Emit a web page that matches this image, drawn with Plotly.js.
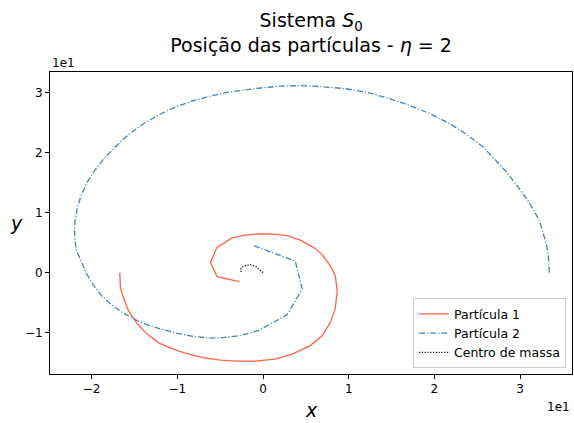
<!DOCTYPE html>
<html>
<head>
<meta charset="utf-8">
<script src="https://cdn.plot.ly/plotly-3.0.1.min.js"></script>
<style>
  html, body { margin: 0; padding: 0; background: #fff; }
  #chart { width: 574px; height: 423px; }
</style>
</head>
<body>
<div id="chart"></div>
<script>
// Trajectory of particle 1 (heavier), in metres
const p1X = [-16.71, -16.63, -16.43, -15.70, -14.77, -13.60, -12.20, -10.80, -9.06, -6.96,
             -4.98, -3.00, -0.90, 1.43, 3.41, 5.51, 6.91, 7.84, 8.43, 8.66,
             8.43, 7.84, 6.91, 5.86, 4.35, 2.83, 1.20, -0.31, -2.06, -3.61,
             -5.36, -6.14, -5.36, -2.76];
const p1Y = [0.00, -2.45, -3.56, -6.34, -8.35, -10.18, -11.69, -12.60, -13.44, -14.19,
             -14.61, -14.77, -14.77, -14.44, -13.61, -12.19, -10.52, -8.35, -6.01, -3.00,
             -0.50, 1.17, 3.01, 4.26, 5.43, 6.18, 6.43, 6.46, 6.26, 5.79,
             4.22, 1.72, -0.67, -1.50];

// Trajectory of particle 2 (lighter)
const p2X = [33.40, 33.32, 33.10, 32.73, 32.32, 31.56, 30.77, 29.64, 28.44, 27.07,
             25.71, 23.81, 21.83, 19.50, 17.17, 14.60, 12.12, 9.59, 6.91, 4.35,
             2.02, -0.31, -2.30, -4.20, -6.14, -8.09, -10.10, -11.97, -13.95, -15.85,
             -17.33, -18.58, -19.66, -20.51, -21.24, -21.68, -21.93, -21.99, -21.93, -21.76,
             -21.24, -20.59, -19.74, -18.85, -17.80, -16.40, -14.69, -13.37, -11.97, -10.10,
             -8.09, -6.14, -4.63, -2.65, -0.55, 2.80, 4.58, 3.76, -1.10];
const p2Y = [0.00, 2.34, 4.51, 6.51, 8.40, 10.52, 12.30, 14.52, 16.74, 18.86,
             20.92, 23.04, 24.82, 26.54, 27.88, 29.13, 30.10, 30.72, 31.05, 31.22,
             31.14, 30.83, 30.47, 30.10, 29.47, 28.71, 27.71, 26.49, 24.87, 22.87,
             20.87, 18.98, 17.03, 15.08, 12.85, 10.63, 8.68, 7.01, 5.34, 3.67,
             2.00, -0.17, -2.17, -3.84, -5.23, -6.68, -8.01, -8.76, -9.40, -10.10,
             -10.68, -10.93, -10.85, -10.52, -9.68, -7.06, -2.72, 1.92, 4.51];

// Centre of mass of the system
const cmX = [0.00, -0.31, -0.70, -1.13, -1.48, -1.89, -2.26, -2.53, -2.65, -2.53];
const cmY = [0.00, 0.42, 0.88, 1.17, 1.29, 1.24, 1.09, 0.75, 0.42, 0.17];

// Series names
const seriesNames = ['Partícula 1', 'Partícula 2', 'Centro de massa'];

// Axis ticks (values shown in units of 1e1)
const xTickVals = [-20, -10, 0, 10, 20, 30];
const xTickText = ['\u22122', '\u22121', '0', '1', '2', '3'];
const yTickVals = [-10, 0, 10, 20, 30];
const yTickText = ['\u22121', '0', '1', '2', '3'];

const FONT = 'DejaVu Sans, sans-serif';

const traces = [
  {
    x: p1X, y: p1Y, name: seriesNames[0], mode: 'lines', type: 'scatter',
    line: { color: '#FF6347', width: 1.3 }
  },
  {
    x: p2X, y: p2Y, name: seriesNames[1], mode: 'lines', type: 'scatter',
    line: { color: '#4682B4', width: 1.3, dash: '6px,2px,1.2px,2px' }
  },
  {
    x: cmX, y: cmY, name: seriesNames[2], mode: 'lines', type: 'scatter',
    line: { color: '#000000', width: 1.3, dash: '1.2px,1.6px' }
  }
];

const axisCommon = {
  showgrid: false, zeroline: false,
  showline: true, linecolor: '#000', linewidth: 1, mirror: true,
  ticks: 'outside', ticklen: 4, tickwidth: 1, tickcolor: '#000',
  tickmode: 'array',
  tickfont: { family: FONT, size: 12, color: '#000' }
};

const layout = {
  width: 574, height: 423,
  paper_bgcolor: '#fff', plot_bgcolor: '#fff',
  margin: { l: 50, r: 2, t: 72, b: 49 },
  font: { family: FONT, color: '#000' },
  title: {
    text: 'Sistema <i>S</i><sub>0</sub><br>Posição das partículas - <i>η</i> = 2',
    font: { family: FONT, size: 19, color: '#000' },
    x: 0.542, xanchor: 'center',
    y: 0.936, yanchor: 'middle'
  },
  xaxis: Object.assign({}, axisCommon, {
    range: [-24.85, 36.05],
    tickvals: xTickVals, ticktext: xTickText
  }),
  yaxis: Object.assign({}, axisCommon, {
    range: [-16.93, 33.5],
    tickvals: yTickVals, ticktext: yTickText
  }),
  showlegend: true,
  legend: {
    x: 0.9885, xanchor: 'right',
    y: 0.019, yanchor: 'bottom',
    bgcolor: 'rgba(255,255,255,0.8)',
    bordercolor: '#cccccc', borderwidth: 1,
    font: { family: FONT, size: 12.5, color: '#000' },
    itemwidth: 30,
    tracegroupgap: 0
  },
  annotations: [
    { text: '<i>x</i>', xref: 'paper', yref: 'paper', x: 0.5, y: -0.118,
      xanchor: 'center', yanchor: 'middle', showarrow: false,
      font: { family: FONT, size: 19, color: '#000' } },
    { text: '<i>y</i>', xref: 'paper', yref: 'paper', x: -0.065, y: 0.5,
      xanchor: 'center', yanchor: 'middle', showarrow: false,
      font: { family: FONT, size: 19, color: '#000' } },
    { text: '1e1', xref: 'paper', yref: 'paper', x: 0.0, y: 1.0,
      xanchor: 'left', yanchor: 'bottom', yshift: 0, showarrow: false,
      font: { family: FONT, size: 12, color: '#000' } },
    { text: '1e1', xref: 'paper', yref: 'paper', x: 1.0, y: 0,
      xanchor: 'right', yanchor: 'top', yshift: -24, showarrow: false,
      font: { family: FONT, size: 12, color: '#000' } }
  ]
};

Plotly.newPlot('chart', traces, layout, { displayModeBar: false, staticPlot: true });
</script>
</body>
</html>
